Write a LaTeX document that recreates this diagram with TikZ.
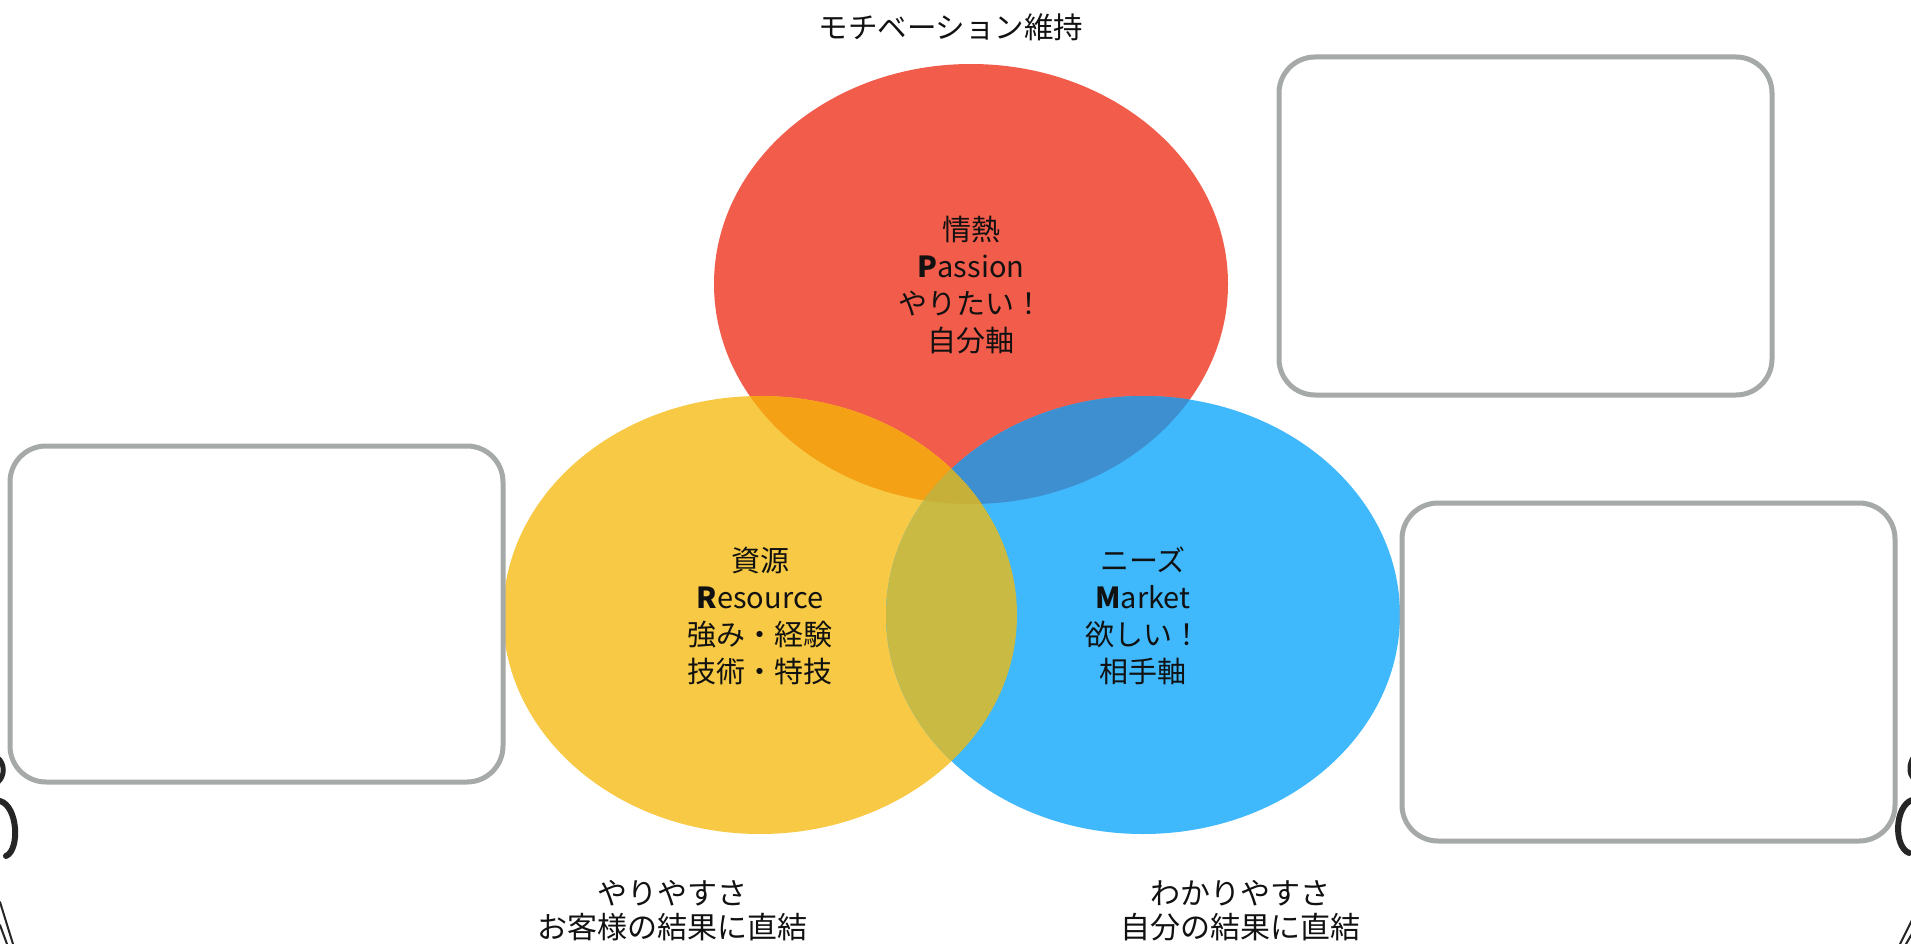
\documentclass[tikz,border=0pt]{standalone}
\usepackage{fontspec}
\setmainfont{Noto Sans CJK JP}
\definecolor{cRed}{RGB}{242,92,74}
\definecolor{cYel}{RGB}{247,201,68}
\definecolor{cBlu}{RGB}{64,184,252}
\definecolor{cRY}{RGB}{245,161,21}
\definecolor{cRB}{RGB}{61,143,208}
\definecolor{cYB}{RGB}{200,186,67}
\definecolor{cRYB}{RGB}{198,176,58}
\definecolor{cBox}{RGB}{165,169,167}
\definecolor{cTxt}{RGB}{17,17,17}
\tikzset{
  framebox/.style={draw=cBox, line width=5pt, rounded corners=36pt},
  vtext/.style={align=center, text=cTxt, font=\fontsize{29}{36.8}\selectfont, inner sep=0pt},
  titletext/.style={align=center, text=cTxt, font=\fontsize{29.5}{34}\selectfont, inner sep=0pt},
  captext/.style={align=center, text=cTxt, font=\fontsize{30}{34}\selectfont, inner sep=0pt},
  edgeink/.style={draw=black!85, line cap=round},
}
\newcommand{\redEll}{(971,284) ellipse [x radius=257pt, y radius=220pt]}
\newcommand{\yelEll}{(760,615) ellipse [x radius=257pt, y radius=219pt]}
\newcommand{\bluEll}{(1143,615) ellipse [x radius=257pt, y radius=219pt]}
\begin{document}
\begin{tikzpicture}[x=1pt, y=-1pt]
\useasboundingbox (0,0) rectangle (1911,944);
\fill[white] (0,0) rectangle (1911,944);

% circles
\fill[cRed] \redEll;
\fill[cYel] \yelEll;
\fill[cBlu] \bluEll;
\begin{scope}\clip \redEll; \fill[cRY] \yelEll; \end{scope}
\begin{scope}\clip \redEll; \fill[cRB] \bluEll; \end{scope}
\begin{scope}\clip \yelEll; \fill[cYB] \bluEll; \end{scope}
\begin{scope}\clip \redEll; \clip \yelEll; \fill[cRYB] \bluEll; \end{scope}

% empty boxes
\draw[framebox] (1279,57) rectangle (1772,395);
\draw[framebox] (10,446) rectangle (503,782);
\draw[framebox] (1402,503) rectangle (1895,841);

% texts
\node[titletext] (title) at (951,27) {モチベーション維持};
\node[vtext] (passion) at (971,285) {情熱\\\textbf{P}assion\\やりたい！\\自分軸};
\node[vtext] (resource) at (760,616) {資源\\\textbf{R}esource\\強み・経験\\技術・特技};
\node[vtext] (market) at (1143,616) {ニーズ\\\textbf{M}arket\\欲しい！\\相手軸};
\node[captext] (left) at (672,911) {やりやすさ\\お客様の結果に直結};
\node[captext] (right) at (1240,911) {わかりやすさ\\自分の結果に直結};

% cropped drawing fragments at the edges
\draw[edgeink, line width=5pt] (-2,758) .. controls (5,764) and (5,776) .. (-2,782);
\draw[edgeink, line width=6pt] (0,801) .. controls (18,806) and (20,850) .. (6,856);
\draw[edgeink, line width=2pt] (0,902) -- (13,944);
\draw[edgeink, line width=2pt] (0,925) -- (7,944);
\draw[edgeink, line width=5pt] (1913,758) .. controls (1909,764) and (1909,774) .. (1913,778);
\draw[edgeink, line width=6pt] (1912,800) .. controls (1895,806) and (1893,846) .. (1909,853);
\draw[edgeink, line width=2pt] (1913,918) -- (1900,944);
\draw[edgeink, line width=2pt] (1913,932) -- (1906,944);
\end{tikzpicture}
\end{document}
